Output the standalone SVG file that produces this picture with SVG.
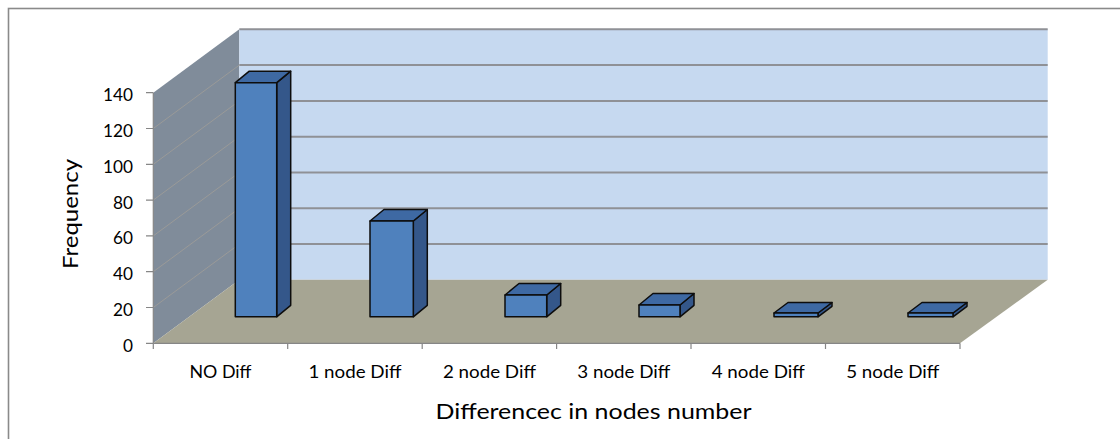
<svg xmlns="http://www.w3.org/2000/svg" width="1120" height="439" viewBox="0 0 1120 439">
<style>
.lbl{font-family:Lato,"Liberation Sans",sans-serif;fill:#000}
.tick{font-size:17px;text-anchor:end}
.cat{font-size:17.5px;text-anchor:middle}
.grid{stroke:#8f9196;stroke-width:2;fill:none}
.wgrid{stroke:#9a9a98;stroke-width:1;fill:none}
.axis{stroke:#868686;stroke-width:1.2;fill:none}
.front{fill:#4f81bd;stroke:#0d0d0d;stroke-width:1.5;stroke-linejoin:round}
.side{fill:#34578a;stroke:#0d0d0d;stroke-width:1.5;stroke-linejoin:round}
.top{fill:#3e69a3;stroke:#0d0d0d;stroke-width:1.5;stroke-linejoin:round}
</style>
<rect x="0" y="0" width="1120" height="439" fill="#ffffff"/>
<rect x="8.5" y="8.5" width="1200" height="500" fill="#ffffff" stroke="#8a8a8a" stroke-width="1.6"/>

<g id="walls">
  <polygon points="153.3,92.7 239.3,29.3 239.3,279.7 153.3,343.3" fill="#808c9a"/>
  <rect x="239.3" y="29.3" width="808.4" height="250.4" fill="#c6d9f0"/>
  <polygon points="153.3,343.3 239.3,279.7 1047.7,279.7 960,343.3" fill="#a6a593"/>
</g>

<g id="gridlines">
  <line class="grid" x1="239.3" y1="29.3" x2="1047.7" y2="29.3"/>
  <line class="grid" x1="239.3" y1="65.1" x2="1047.7" y2="65.1"/>
  <line class="grid" x1="239.3" y1="100.9" x2="1047.7" y2="100.9"/>
  <line class="grid" x1="239.3" y1="136.7" x2="1047.7" y2="136.7"/>
  <line class="grid" x1="239.3" y1="172.5" x2="1047.7" y2="172.5"/>
  <line class="grid" x1="239.3" y1="208.3" x2="1047.7" y2="208.3"/>
  <line class="grid" x1="239.3" y1="244.1" x2="1047.7" y2="244.1"/>
  <line class="wgrid" x1="153.3" y1="128.5" x2="239.3" y2="65.1"/>
  <line class="wgrid" x1="153.3" y1="164.3" x2="239.3" y2="100.9"/>
  <line class="wgrid" x1="153.3" y1="200.1" x2="239.3" y2="136.7"/>
  <line class="wgrid" x1="153.3" y1="235.9" x2="239.3" y2="172.5"/>
  <line class="wgrid" x1="153.3" y1="271.7" x2="239.3" y2="208.3"/>
  <line class="wgrid" x1="153.3" y1="307.5" x2="239.3" y2="244.1"/>
</g>

<g id="axes">
  <line class="axis" x1="153.3" y1="92.7" x2="153.3" y2="343.3"/>
  <line class="axis" x1="153.3" y1="343.3" x2="960" y2="343.3"/>
  <path class="axis" d="M146,92.7H153.3M146,128.5H153.3M146,164.3H153.3M146,200.1H153.3M146,235.9H153.3M146,271.7H153.3M146,307.5H153.3M146,343.3H153.3"/>
  <path class="axis" d="M153.3,343.3V349M287.7,343.3V349M422.2,343.3V349M556.6,343.3V349M691,343.3V349M825.5,343.3V349M960,343.3V349"/>
</g>

<g id="bar-no-diff">
  <polygon class="side" points="276.7,82.7 290.7,71.2 290.7,305.3 276.7,316.8"/>
  <polygon class="top" points="235.3,82.7 249.3,71.2 290.7,71.2 276.7,82.7"/>
  <rect class="front" x="235.3" y="82.7" width="41.4" height="234.1"/>
</g>
<g id="bar-1-node">
  <polygon class="side" points="413.3,221 427.3,209.5 427.3,305.3 413.3,316.8"/>
  <polygon class="top" points="370,221 384,209.5 427.3,209.5 413.3,221"/>
  <rect class="front" x="370" y="221" width="43.3" height="95.8"/>
</g>
<g id="bar-2-node">
  <polygon class="side" points="546.7,295 560.7,283.5 560.7,305.3 546.7,316.8"/>
  <polygon class="top" points="505,295 519,283.5 560.7,283.5 546.7,295"/>
  <rect class="front" x="505" y="295" width="41.7" height="21.8"/>
</g>
<g id="bar-3-node">
  <polygon class="side" points="680,305 694,293.5 694,305.3 680,316.8"/>
  <polygon class="top" points="639,305 653,293.5 694,293.5 680,305"/>
  <rect class="front" x="639" y="305" width="41" height="11.8"/>
</g>
<g id="bar-4-node">
  <polygon class="side" points="818,313 832,302.5 832,306.3 818,316.8"/>
  <polygon class="top" points="774,313 788,302.5 832,302.5 818,313"/>
  <rect class="front" x="774" y="313" width="44" height="3.8"/>
</g>
<g id="bar-5-node">
  <polygon class="side" points="953,313 967,302.5 967,306.3 953,316.8"/>
  <polygon class="top" points="908,313 922,302.5 967,302.5 953,313"/>
  <rect class="front" x="908" y="313" width="45" height="3.8"/>
</g>

<g id="y-labels">
  <text class="lbl tick" x="133" y="101.2" textLength="30" lengthAdjust="spacingAndGlyphs">140</text>
  <text class="lbl tick" x="133" y="137" textLength="30" lengthAdjust="spacingAndGlyphs">120</text>
  <text class="lbl tick" x="133" y="172.8" textLength="30" lengthAdjust="spacingAndGlyphs">100</text>
  <text class="lbl tick" x="133" y="208.6" textLength="20" lengthAdjust="spacingAndGlyphs">80</text>
  <text class="lbl tick" x="133" y="244.4" textLength="20" lengthAdjust="spacingAndGlyphs">60</text>
  <text class="lbl tick" x="133" y="280.2" textLength="20" lengthAdjust="spacingAndGlyphs">40</text>
  <text class="lbl tick" x="133" y="316" textLength="20" lengthAdjust="spacingAndGlyphs">20</text>
  <text class="lbl tick" x="133" y="351.8" textLength="10" lengthAdjust="spacingAndGlyphs">0</text>
</g>

<g id="x-labels">
  <text class="lbl cat" x="220.5" y="377.5" textLength="62" lengthAdjust="spacingAndGlyphs">NO Diff</text>
  <text class="lbl cat" x="354.9" y="377.5" textLength="93" lengthAdjust="spacingAndGlyphs">1 node Diff</text>
  <text class="lbl cat" x="489.4" y="377.5" textLength="93" lengthAdjust="spacingAndGlyphs">2 node Diff</text>
  <text class="lbl cat" x="623.8" y="377.5" textLength="93" lengthAdjust="spacingAndGlyphs">3 node Diff</text>
  <text class="lbl cat" x="758.2" y="377.5" textLength="93" lengthAdjust="spacingAndGlyphs">4 node Diff</text>
  <text class="lbl cat" x="892.7" y="377.5" textLength="93" lengthAdjust="spacingAndGlyphs">5 node Diff</text>
</g>

<g id="titles">
  <text class="lbl" transform="translate(77.5,214) rotate(-90)" font-size="22" text-anchor="middle" textLength="110" lengthAdjust="spacingAndGlyphs">Frequency</text>
  <text class="lbl" x="593.5" y="418.5" font-size="22" text-anchor="middle" textLength="316" lengthAdjust="spacingAndGlyphs">Differencec in nodes number</text>
</g>
</svg>
